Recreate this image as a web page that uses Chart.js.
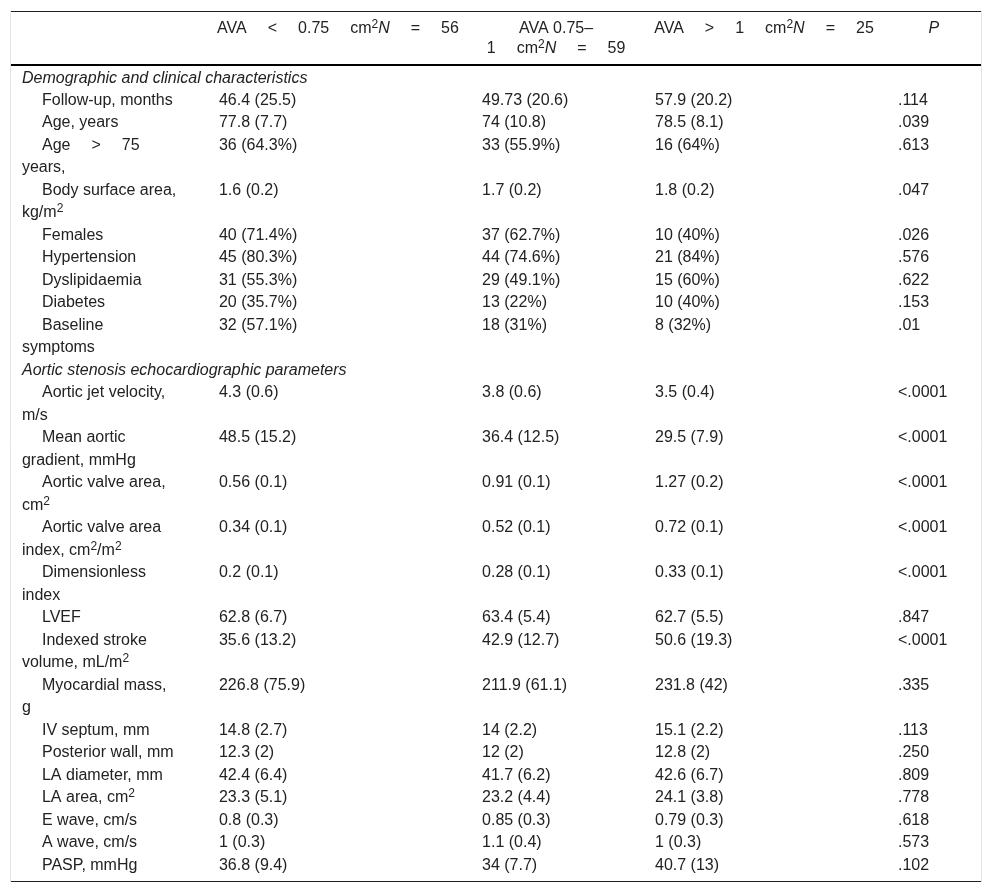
<!DOCTYPE html>
<html>
<head>
<meta charset="utf-8">
<script src="https://cdn.jsdelivr.net/npm/chart.js@4/dist/chart.umd.min.js"></script>
<style>
  html, body { margin: 0; padding: 0; background: #fff; }
  #caja { width: 992px; height: 893px; }
</style>
</head>
<body>
<div id="caja"><canvas id="tabla" width="992" height="893"></canvas></div>
<script>
// marcas en los textos: ^x superindice, *...* cursiva, ~ espacio ancho
const groupHeaders = [
  ["AVA~<~0.75~cm^2*N*~=~56"],
  ["AVA 0.75–", "1~cm^2*N*~=~59"],
  ["AVA~>~1~cm^2*N*~=~25"],
  ["*P*"]
];

const sectionTitles = [
  "Demographic and clinical characteristics",
  "Aortic stenosis echocardiographic parameters"
];
const sectionSizes = [9, 15];

const variables = [
  "Follow-up, months", "Age, years", "Age~>~75 years,", "Body surface area, kg/m^2",
  "Females", "Hypertension", "Dyslipidaemia", "Diabetes", "Baseline symptoms",
  "Aortic jet velocity, m/s", "Mean aortic gradient, mmHg", "Aortic valve area, cm^2",
  "Aortic valve area index, cm^2/m^2", "Dimensionless index", "LVEF",
  "Indexed stroke volume, mL/m^2", "Myocardial mass, g", "IV septum, mm",
  "Posterior wall, mm", "LA diameter, mm", "LA area, cm^2", "E wave, cm/s",
  "A wave, cm/s", "PASP, mmHg"
];

const avaSmall = [
  "46.4 (25.5)", "77.8 (7.7)", "36 (64.3%)", "1.6 (0.2)", "40 (71.4%)", "45 (80.3%)",
  "31 (55.3%)", "20 (35.7%)", "32 (57.1%)", "4.3 (0.6)", "48.5 (15.2)", "0.56 (0.1)",
  "0.34 (0.1)", "0.2 (0.1)", "62.8 (6.7)", "35.6 (13.2)", "226.8 (75.9)", "14.8 (2.7)",
  "12.3 (2)", "42.4 (6.4)", "23.3 (5.1)", "0.8 (0.3)", "1 (0.3)", "36.8 (9.4)"
];
const avaMid = [
  "49.73 (20.6)", "74 (10.8)", "33 (55.9%)", "1.7 (0.2)", "37 (62.7%)", "44 (74.6%)",
  "29 (49.1%)", "13 (22%)", "18 (31%)", "3.8 (0.6)", "36.4 (12.5)", "0.91 (0.1)",
  "0.52 (0.1)", "0.28 (0.1)", "63.4 (5.4)", "42.9 (12.7)", "211.9 (61.1)", "14 (2.2)",
  "12 (2)", "41.7 (6.2)", "23.2 (4.4)", "0.85 (0.3)", "1.1 (0.4)", "34 (7.7)"
];
const avaLarge = [
  "57.9 (20.2)", "78.5 (8.1)", "16 (64%)", "1.8 (0.2)", "10 (40%)", "21 (84%)",
  "15 (60%)", "10 (40%)", "8 (32%)", "3.5 (0.4)", "29.5 (7.9)", "1.27 (0.2)",
  "0.72 (0.1)", "0.33 (0.1)", "62.7 (5.5)", "50.6 (19.3)", "231.8 (42)", "15.1 (2.2)",
  "12.8 (2)", "42.6 (6.7)", "24.1 (3.8)", "0.79 (0.3)", "1 (0.3)", "40.7 (13)"
];
const pValues = [
  ".114", ".039", ".613", ".047", ".026", ".576", ".622", ".153", ".01",
  "<.0001", "<.0001", "<.0001", "<.0001", "<.0001", ".847", "<.0001", ".335", ".113",
  ".250", ".809", ".778", ".618", ".573", ".102"
];

// columnas en % del ancho de la tabla
const sectionX = 1.13;
const valueX = [21.44, 48.56, 66.39, 91.44];
const headerX = [33.71, 56.19, 77.63, 95.15];
const INDENT = 20, LABEL_W = 156;

const FONT = '"Liberation Sans", Arial, Helvetica, sans-serif';
const SIZE = 16, SUP = 12, GAP = 21, INK = "#222";

function runs(str, italicBase) {
  const out = [];
  let italic = !!italicBase, buf = "";
  const flush = () => { if (buf) { out.push({ t: buf, italic, sup: false }); buf = ""; } };
  for (let i = 0; i < str.length; i++) {
    const c = str[i];
    if (c === "*") { flush(); italic = !italic; }
    else if (c === "^") { flush(); out.push({ t: str[++i], italic, sup: true }); }
    else if (c === "~") { flush(); out.push({ gap: GAP }); }
    else buf += c;
  }
  flush();
  return out;
}
function setFont(ctx, r) {
  ctx.font = (r.italic ? "italic " : "") + (r.sup ? SUP : SIZE) + "px " + FONT;
}
function textWidth(ctx, str, italic) {
  let w = 0;
  for (const r of runs(str, italic)) {
    if (r.gap) { w += r.gap; continue; }
    setFont(ctx, r);
    w += ctx.measureText(r.t).width;
  }
  return w;
}
function drawRich(ctx, str, x, y, italic) {
  for (const r of runs(str, italic)) {
    if (r.gap) { x += r.gap; continue; }
    setFont(ctx, r);
    ctx.fillText(r.t, x, r.sup ? y - 4 : y);
    x += ctx.measureText(r.t).width;
  }
}

// partir etiquetas largas como lo hace la tabla
const meas = document.createElement("canvas").getContext("2d");
function wrapLabel(str) {
  const words = str.split(" ");
  const lines = [];
  let cur = words[0];
  for (let i = 1; i < words.length; i++) {
    const limit = lines.length === 0 ? LABEL_W - INDENT : LABEL_W;
    if (textWidth(meas, cur + " " + words[i]) <= limit) cur += " " + words[i];
    else { lines.push(cur); cur = words[i]; }
  }
  lines.push(cur);
  return lines;
}

// linea (fila de texto) de cada celda
const sectionLine = [];
const rowLine = [];
const rowLabels = [];
let line = 0, v = 0;
sectionSizes.forEach(n => {
  sectionLine.push(line);
  line += 1;
  for (let k = 0; k < n; k++, v++) {
    const lines = wrapLabel(variables[v]);
    rowLine.push(line);
    rowLabels.push(lines);
    line += lines.length;
  }
});

const datasets = [
  {
    data: headerX.map(x => ({ x, y: -2.2 })),
    texts: groupHeaders, align: "center", step: 0.9
  },
  {
    data: sectionLine.map(y => ({ x: sectionX, y })),
    texts: sectionTitles.map(t => [t]), italic: true
  },
  {
    data: rowLine.map(y => ({ x: sectionX, y })),
    texts: rowLabels, indent: INDENT
  }
];
[avaSmall, avaMid, avaLarge, pValues].forEach((col, c) => {
  datasets.push({
    data: rowLine.map(y => ({ x: valueX[c], y })),
    texts: col.map(t => [t])
  });
});
datasets.forEach(d => { d.pointRadius = 0; d.showLine = false; });

const reglas = {
  id: "reglas",
  beforeDatasetsDraw(chart) {
    const { ctx, chartArea: a } = chart;
    const ys = chart.scales.y;
    ctx.save();
    ctx.strokeStyle = "#e3e3e3";
    ctx.lineWidth = 1;
    ctx.beginPath();
    ctx.moveTo(a.left - 0.5, a.top); ctx.lineTo(a.left - 0.5, a.bottom);
    ctx.moveTo(a.right + 0.5, a.top); ctx.lineTo(a.right + 0.5, a.bottom);
    ctx.stroke();
    ctx.strokeStyle = "#222";
    ctx.beginPath();
    ctx.moveTo(a.left, a.top + 0.5); ctx.lineTo(a.right, a.top + 0.5);
    ctx.moveTo(a.left, a.bottom - 0.5); ctx.lineTo(a.right, a.bottom - 0.5);
    ctx.stroke();
    ctx.strokeStyle = "#000";
    ctx.lineWidth = 2;
    const yh = Math.round(ys.getPixelForValue(-0.58));
    ctx.beginPath();
    ctx.moveTo(a.left, yh); ctx.lineTo(a.right, yh);
    ctx.stroke();
    ctx.restore();
  }
};

const celdas = {
  id: "celdas",
  afterDatasetsDraw(chart) {
    const ctx = chart.ctx;
    const xs = chart.scales.x, ys = chart.scales.y;
    ctx.save();
    ctx.fillStyle = INK;
    ctx.textAlign = "left";
    ctx.textBaseline = "middle";
    chart.data.datasets.forEach((ds, i) => {
      chart.getDatasetMeta(i).data.forEach((pt, j) => {
        ds.texts[j].forEach((s, k) => {
          const y = ys.getPixelForValue(ds.data[j].y + k * (ds.step || 1));
          let x;
          if (ds.align === "center") x = pt.x - textWidth(ctx, s, ds.italic) / 2;
          else if (k > 0) x = xs.getPixelForValue(sectionX);
          else x = pt.x + (ds.indent || 0);
          drawRich(ctx, s, x, y, ds.italic);
        });
      });
    });
    ctx.restore();
  }
};

new Chart(document.getElementById("tabla"), {
  type: "scatter",
  data: { datasets },
  options: {
    responsive: false,
    animation: false,
    events: [],
    layout: { padding: { left: 11, right: 11, top: 11, bottom: 11 } },
    scales: {
      x: { type: "linear", min: 0, max: 100, display: false },
      y: { type: "linear", min: -2.98, max: 35.73, reverse: true, display: false }
    },
    plugins: { legend: { display: false }, tooltip: { enabled: false } }
  },
  plugins: [reglas, celdas]
});
</script>
</body>
</html>
